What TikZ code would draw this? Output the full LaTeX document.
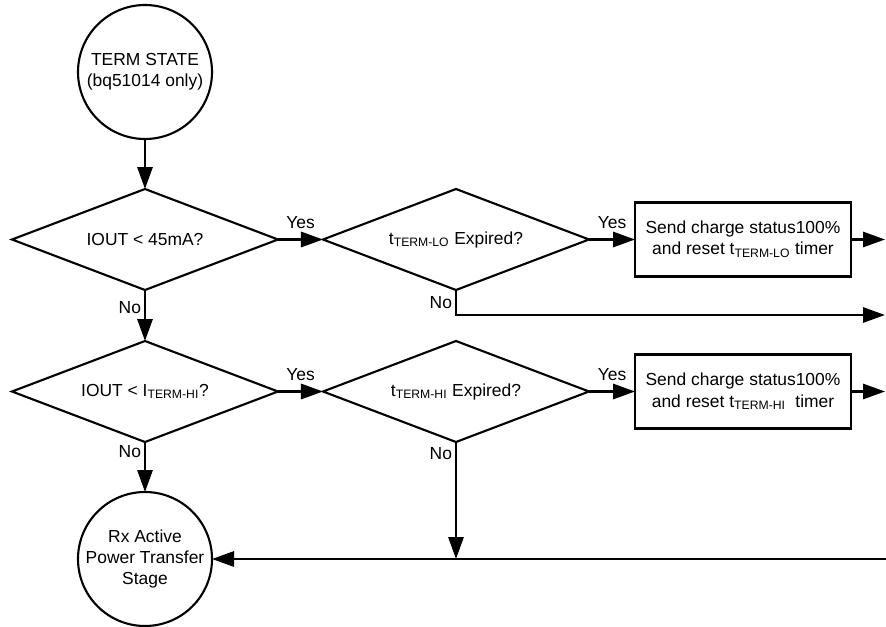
\documentclass[tikz,border=0pt]{standalone}
\usepackage{fontspec}
\setmainfont{Liberation Sans}
\usepackage{tikz}
\usetikzlibrary{positioning, arrows.meta, shapes.geometric}
\newcommand{\flowfont}{\fontsize{12.4}{15}\selectfont}
\tikzset{
  state/.style={circle, draw=black, line width=1.5pt, minimum size=33.5mm, inner sep=0pt, outer sep=0pt, align=center, font=\flowfont},
  decision/.style={diamond, aspect=2.63, draw=black, line width=1.5pt, minimum width=66.5mm, minimum height=25.25mm, inner sep=0pt, outer sep=0pt, font=\flowfont},
  action/.style={rectangle, draw=black, line width=1.5pt, minimum width=54mm, minimum height=18.5mm, inner sep=2pt, outer sep=0pt, align=center, font=\flowfont},
  arrow/.style={-{Triangle[length=5.5mm, width=3.8mm]}, line width=1.7pt, draw=black},
  answer/.style={font=\flowfont, inner sep=2pt},
}

\begin{document}
\begin{tikzpicture}[node distance=12.5mm and 11.25mm]
  \useasboundingbox (-36.25mm,18mm) rectangle (185.25mm,-138.5mm);
  % Entry state
  \node[state] (term) at (0,0) {TERM STATE\\(bq51014 only)};
  % Low current check
  \node[decision, below=12.5mm of term] (iout1) {IOUT < 45mA?};
  \node[decision, right=of iout1] (texplo) {t\textsubscript{TERM-LO} Expired?};
  \node[action, right=11.5mm of texplo] (sendlo)
    {Send charge status100\%\\and reset t\textsubscript{TERM-LO} timer};
  % High current check
  \node[decision, below=12.75mm of iout1] (iout2) {IOUT < I\textsubscript{TERM-HI}?};
  \node[decision, right=of iout2] (texphi) {t\textsubscript{TERM-HI} Expired?};
  \node[action, right=11.5mm of texphi] (sendhi)
    {Send charge status100\%\\and reset t\textsubscript{TERM-HI}\ \ timer};
  % Back to power transfer
  \node[state, below=12.5mm of iout2] (rx) {Rx Active\\Power Transfer\\Stage};

  % Right-hand exits
  \coordinate (rim) at (185mm,0);
  \coordinate (rimb) at (185.25mm,0);
  \coordinate (outlo) at (sendlo.east -| rim);
  \coordinate (outhi) at (sendhi.east -| rim);
  \coordinate (nolo) at ([yshift=-6.25mm]texplo.south);
  \coordinate (merge) at (texphi.south |- rx.east);
  \coordinate (backin) at (rx.east -| rimb);

  % Edges
  \draw[arrow] (term) -- (iout1);
  \draw[arrow] (iout1) -- node[answer, above=1.75mm] {Yes} (texplo);
  \draw[arrow] (texplo) -- node[answer, above=1.75mm] {Yes} (sendlo);
  \draw[arrow] (sendlo) -- (outlo);
  \draw[arrow] (texplo.south) -- node[answer, left, pos=0.5] {No} (nolo) -- (nolo -| rim);
  \draw[arrow] (iout1) -- node[answer, left, pos=0.34] {No} (iout2);
  \draw[arrow] (iout2) -- node[answer, above=1.75mm] {Yes} (texphi);
  \draw[arrow] (texphi) -- node[answer, above=1.75mm] {Yes} (sendhi);
  \draw[arrow] (sendhi) -- (outhi);
  \draw[arrow] (iout2) -- node[answer, left, pos=0.2] {No} (rx);
  \draw[arrow] (texphi.south) -- node[answer, left, pos=0.1] {No} (merge);
  \draw[arrow] (backin) -- (rx);
\end{tikzpicture}
\end{document}
